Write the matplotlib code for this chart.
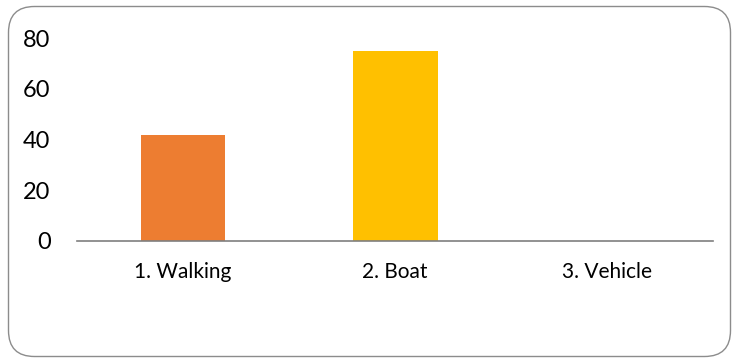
import matplotlib
matplotlib.use('Agg')
import matplotlib.pyplot as plt
from matplotlib.patches import FancyBboxPatch
from matplotlib.transforms import IdentityTransform

# transport modes and counts
modes = ['1. Walking', '2. Boat', '3. Vehicle']
counts = [41.6, 74.8, 0]
colors = ['#ED7D31', '#FFC000', '#A5A5A5']
yticks = [0, 20, 40, 60, 80]

plt.rcParams['font.family'] = ['Lato', 'DejaVu Sans']

fig = plt.figure(figsize=(7.33, 3.59), dpi=100)
ax = fig.add_axes([0.105, 0.329, 0.868, 0.565])

ax.bar(range(len(modes)), counts, width=0.4, color=colors)
ax.set_xlim(-0.5, len(modes) - 0.5)
ax.set_ylim(0, 80)
ax.set_yticks(yticks)
ax.set_xticks(range(len(modes)))
ax.set_xticklabels(modes, fontsize=15)
ax.tick_params(axis='y', length=0, pad=19, labelsize=17)
ax.tick_params(axis='x', length=0, pad=15)

for s in ['top', 'right', 'left']:
    ax.spines[s].set_visible(False)
ax.spines['bottom'].set_color('#7f7f7f')
ax.spines['bottom'].set_linewidth(1.2)

# rounded chart frame, in pixels
frame = FancyBboxPatch((8.5, 2.5), 722, 350,
                       boxstyle='round,pad=0,rounding_size=26',
                       transform=IdentityTransform(), fill=False,
                       edgecolor='#8c8c8c', linewidth=1.0)
fig.patches.append(frame)

fig.savefig('out.png', dpi=100)
